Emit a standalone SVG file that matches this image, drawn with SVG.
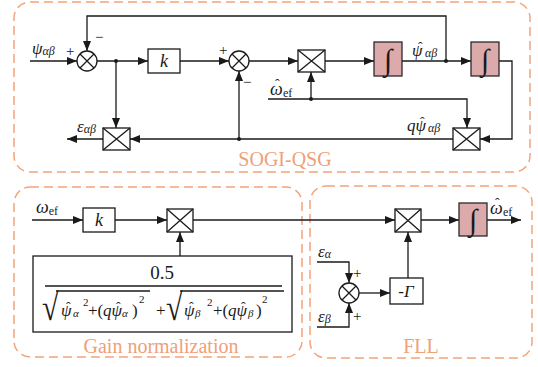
<svg xmlns="http://www.w3.org/2000/svg" width="538" height="367" viewBox="0 0 538 367">
<defs>
<marker id="arr" markerUnits="userSpaceOnUse" markerWidth="11" markerHeight="8" refX="10" refY="4" orient="auto">
<path d="M0,0 L10,4 L0,8 z" fill="#1a1a1a"/>
</marker>
<style>
.frame{fill:none;stroke:#f4a47a;stroke-width:1.5;stroke-dasharray:9,5}
.ln{fill:none;stroke:#1a1a1a;stroke-width:1.3}
.ar{fill:none;stroke:#1a1a1a;stroke-width:1.3;marker-end:url(#arr)}
.blk{fill:#fff;stroke:#1a1a1a;stroke-width:1.3}
.int{fill:#dcaaaa;stroke:#2a2a2a;stroke-width:1.3}
.dot{fill:#1a1a1a}
text{font-family:"Liberation Serif","Times New Roman",serif;fill:#1a1a1a}
.i{font-style:italic}
.n{font-style:normal}
.h{font-style:normal;font-size:14px}
.cap{fill:#f0a078;font-size:20px;text-anchor:middle}
.sg{font-size:15px}
.ig{font-size:30px;text-anchor:middle}
</style>
</defs>

<g id="frames">
<rect class="frame" x="14" y="2" width="516" height="170" rx="16"/>
<rect class="frame" x="14" y="187" width="288" height="170" rx="16"/>
<rect class="frame" x="310" y="186" width="222" height="172" rx="16"/>
<text class="cap" x="285" y="166">SOGI-QSG</text>
<text class="cap" x="161" y="353">Gain normalization</text>
<text class="cap" x="421" y="353">FLL</text>
</g>

<g id="connectors">
<path class="ar" d="M30,61 H77"/>
<path class="ar" d="M446,61 V16 H87 V51"/>
<path class="ar" d="M97,61 H148"/>
<path class="ar" d="M116,61 V128"/>
<path class="ar" d="M180,61 H229"/>
<path class="ar" d="M249,61 H298"/>
<path class="ar" d="M325,61 H374"/>
<path class="ar" d="M402,61 H471"/>
<path class="ar" d="M499,61 H512 V139 H480"/>
<path class="ar" d="M268,99 H467 V128"/>
<path class="ar" d="M311,99 V72"/>
<path class="ar" d="M453,139 H130"/>
<path class="ar" d="M239,139 V71"/>
<path class="ar" d="M103,139 H67"/>
<circle class="dot" cx="116" cy="61" r="2"/>
<circle class="dot" cx="446" cy="61" r="2"/>
<circle class="dot" cx="311" cy="99" r="2"/>
<circle class="dot" cx="239" cy="139" r="2"/>

<path class="ar" d="M32,220 H83"/>
<path class="ar" d="M115,220 H167"/>
<path class="ar" d="M193,220 H395"/>
<path class="ar" d="M180,256 V232"/>
<path class="ar" d="M421,220 H459"/>
<path class="ar" d="M487,220 H521"/>
<path class="ar" d="M317,262 H349 V283"/>
<path class="ar" d="M317,327 H349 V303"/>
<path class="ar" d="M359,293 H390"/>
<path class="ar" d="M408,278 V232"/>
</g>

<g id="sum1">
<circle class="blk" cx="87" cy="61" r="10"/>
<path class="ln" d="M80,54 L94,68 M94,54 L80,68"/>
<text class="sg" x="66" y="56">+</text>
<text class="sg" x="95" y="42" font-size="18">−</text>
</g>

<g id="k1">
<rect class="blk" x="148" y="49" width="32" height="24"/>
<text class="i" x="164" y="67" font-size="18" text-anchor="middle">k</text>
</g>

<g id="sum2">
<circle class="blk" cx="239" cy="61" r="10"/>
<path class="ln" d="M232,54 L246,68 M246,54 L232,68"/>
<text class="sg" x="219" y="55">+</text>
<text class="sg" x="243" y="87" font-size="18">−</text>
</g>

<g id="mult1">
<rect class="blk" x="298" y="50" width="27" height="22"/>
<path class="ln" d="M298,50 L325,72 M325,50 L298,72"/>
</g>

<g id="integ1">
<rect class="int" x="374" y="42" width="28" height="34"/>
<text class="ig" x="388" y="70">∫</text>
</g>

<g id="integ2">
<rect class="int" x="471" y="42" width="28" height="34"/>
<text class="ig" x="485" y="70">∫</text>
</g>

<g id="multQ">
<rect class="blk" x="453" y="128" width="27" height="22"/>
<path class="ln" d="M453,128 L480,150 M480,128 L453,150"/>
</g>

<g id="multE">
<rect class="blk" x="103" y="128" width="27" height="22"/>
<path class="ln" d="M103,128 L130,150 M130,128 L103,150"/>
</g>

<g id="labels-top">
<text class="i" x="32" y="54" font-size="17">ψ<tspan font-size="12" dy="1">αβ</tspan></text>
<text class="i" x="77" y="132" font-size="17">ε<tspan font-size="12" dy="1">αβ</tspan></text>
<text class="i" font-size="17" y="56"><tspan x="412">ψ</tspan><tspan class="h" x="418" y="52">ˆ</tspan><tspan x="425" y="57" font-size="12">αβ</tspan></text>
<text class="i" font-size="18" y="95"><tspan x="270">ω</tspan><tspan class="h" x="275" y="89">ˆ</tspan><tspan class="n" x="283" y="97" font-size="12">ef</tspan></text>
<text class="i" font-size="17" y="131"><tspan x="407">qψ</tspan><tspan class="h" x="420" y="127">ˆ</tspan><tspan x="428" y="132" font-size="12">αβ</tspan></text>
</g>

<g id="k2">
<rect class="blk" x="83" y="208" width="32" height="24"/>
<text class="i" x="99" y="226" font-size="18" text-anchor="middle">k</text>
</g>
<text class="i" x="36" y="213" font-size="18">ω<tspan class="n" font-size="12" dy="2">ef</tspan></text>

<g id="multG">
<rect class="blk" x="167" y="209" width="26" height="23"/>
<path class="ln" d="M167,209 L193,232 M193,209 L167,232"/>
</g>

<g id="gain">
<rect class="blk" x="33" y="256" width="259" height="76"/>
<text x="162" y="279" font-size="19" text-anchor="middle">0.5</text>
<path class="ln" d="M45,286 H282"/>
<text transform="translate(42,320) scale(1,1.25)" font-size="30">√</text>
<path class="ln" d="M56,291 H150"/>
<text font-size="17" y="316"><tspan class="i" x="61">ψ</tspan><tspan class="h" x="66" y="312">ˆ</tspan><tspan class="i" x="73" y="317" font-size="11">α</tspan><tspan x="83" font-size="11" y="306">2</tspan><tspan x="88" y="316">+(</tspan><tspan class="i" x="103">qψ</tspan><tspan class="h" x="116" y="312">ˆ</tspan><tspan class="i" x="122" y="317" font-size="11">α</tspan><tspan x="132" y="316">)</tspan><tspan x="139" font-size="11" y="303">2</tspan><tspan x="156" y="316">+</tspan></text>
<text transform="translate(166,320) scale(1,1.25)" font-size="30">√</text>
<path class="ln" d="M180,291 H284"/>
<text font-size="17" y="316"><tspan class="i" x="184">ψ</tspan><tspan class="h" x="189" y="312">ˆ</tspan><tspan class="i" x="195" y="317" font-size="11">β</tspan><tspan x="207" font-size="11" y="306">2</tspan><tspan x="213" y="316">+(</tspan><tspan class="i" x="228">qψ</tspan><tspan class="h" x="241" y="312">ˆ</tspan><tspan class="i" x="248" y="317" font-size="11">β</tspan><tspan x="256" y="316">)</tspan><tspan x="262" font-size="11" y="303">2</tspan></text>
</g>

<g id="multF">
<rect class="blk" x="395" y="209" width="26" height="23"/>
<path class="ln" d="M395,209 L421,232 M421,209 L395,232"/>
</g>

<g id="integ3">
<rect class="int" x="459" y="203" width="28" height="33"/>
<text class="ig" x="473" y="230">∫</text>
</g>
<text class="i" font-size="18" y="214"><tspan x="490">ω</tspan><tspan class="h" x="495" y="208">ˆ</tspan><tspan class="n" x="503" y="216" font-size="12">ef</tspan></text>

<g id="sum3">
<circle class="blk" cx="349" cy="293" r="10"/>
<path class="ln" d="M342,286 L356,300 M356,286 L342,300"/>
<text class="sg" x="353" y="278">+</text>
<text class="sg" x="353" y="321">+</text>
</g>
<text class="i" x="318" y="257" font-size="17">ε<tspan font-size="12" dy="1">α</tspan></text>
<text class="i" x="318" y="322" font-size="17">ε<tspan font-size="12" dy="1">β</tspan></text>

<g id="gamma">
<rect class="blk" x="390" y="278" width="33" height="26"/>
<text class="i" x="406" y="297" font-size="17" text-anchor="middle">-Γ</text>
</g>
</svg>
